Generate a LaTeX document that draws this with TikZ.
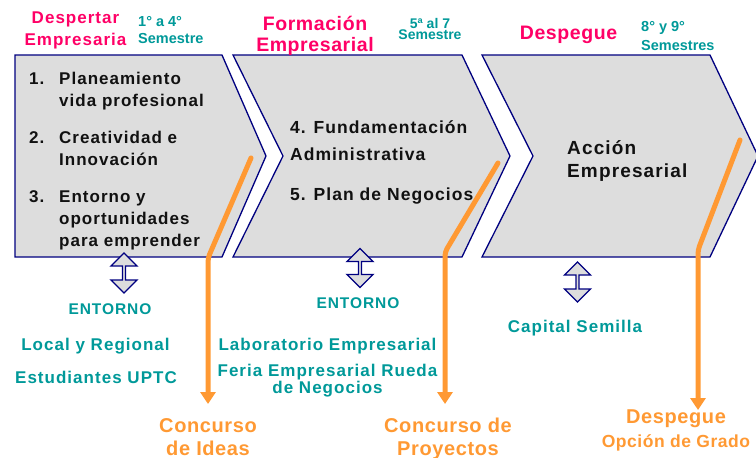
\documentclass[tikz,border=0pt]{standalone}
\usepackage{fontspec}
\setmainfont{Liberation Sans}
\newfontfamily\wsans[LetterSpace=6]{Liberation Sans}
\newfontfamily\msans[LetterSpace=3]{Liberation Sans}
\usetikzlibrary{arrows.meta,shapes.arrows}
\definecolor{navyline}{HTML}{000080}
\definecolor{chevgray}{HTML}{DDDDDD}
\definecolor{titlepink}{HTML}{FF0066}
\definecolor{tealtext}{HTML}{009999}
\definecolor{orangeline}{HTML}{FF9933}
\definecolor{itemblack}{HTML}{111111}

\begin{document}
\begin{tikzpicture}[x=1pt,y=-1pt,
  chev/.style={draw=navyline,fill=chevgray,line width=1.3pt,line join=miter},
  dblarrow/.style={double arrow,draw=navyline,fill=chevgray,line width=1.3pt,
    rotate=90,inner sep=0pt,minimum width=26pt,minimum height=40pt,
    double arrow head extend=5pt,double arrow head indent=0pt},
  stagetxt/.style={text=titlepink,font=\msans\bfseries\fontsize{19.5}{21}\selectfont,
    align=center,anchor=base,inner sep=0pt},
  semtxt/.style={text=tealtext,font=\bfseries\fontsize{14.5}{17}\selectfont,
    align=left,anchor=base west,inner sep=0pt},
  itemtxt/.style={text=itemblack,font=\wsans\bfseries\fontsize{17}{22}\selectfont,
    align=left,anchor=base west,inner sep=0pt},
  envtxt/.style={text=tealtext,font=\wsans\bfseries\fontsize{17}{15}\selectfont,
    align=center,anchor=base,inner sep=0pt},
  goaltxt/.style={text=orangeline,font=\msans\bfseries\fontsize{20}{23}\selectfont,
    align=center,anchor=base,inner sep=0pt},
  goalarrow/.style={draw=orangeline,line width=5pt,rounded corners=4pt,line cap=round,
    -{Triangle[width=15pt,length=12pt]}}]
\useasboundingbox (0,0) rectangle (756,458);

% chevrons
\draw[chev] (15,55) -- (222,55) -- (266,156) -- (222,257) -- (15,257) -- cycle;
\draw[chev] (233,55) -- (462,55) -- (510,156) -- (462,257) -- (233,257) -- (283,156) -- cycle;
\draw[chev] (482,55) -- (710,55) -- (758,156) -- (710,257) -- (482,257) -- (533,156) -- cycle;

% stage titles (base = last line)
\node[stagetxt,font=\wsans\bfseries\fontsize{17}{22}\selectfont] (stage1) at (75.5,45.5) {Despertar\\Empresaria};
\node[semtxt] (sem1) at (138,43) {1° a 4°\\Semestre};
\node[stagetxt] (stage2) at (315,51) {Formación\\Empresarial};
\node[semtxt,align=center,anchor=base,font=\bfseries\fontsize{14}{11}\selectfont] (sem2) at (430,39) {5ª al 7\\Semestre};
\node[stagetxt] (stage3) at (568.5,39) {Despegue};
\node[semtxt,font=\bfseries\fontsize{14.5}{19}\selectfont] (sem3) at (641,50) {8° y 9°\\Semestres};

% contents
\node[itemtxt] (items1) at (29,84) {\begin{tabular}[t]{@{}p{30pt}@{}l@{}}
  1. & Planeamiento\\ & vida profesional\\[15pt]
  2. & Creatividad e\\ & Innovación\\[15pt]
  3. & Entorno y\\ & oportunidades\\ & para emprender
  \end{tabular}};
\node[itemtxt,font=\wsans\bfseries\fontsize{17.5}{27}\selectfont] (items2) at (290,200)
  {4. Fundamentación\\Administrativa\\[13pt]5. Plan de Negocios};
\node[itemtxt,font=\wsans\bfseries\fontsize{19}{23}\selectfont] (items3) at (567,177)
  {Acción\\Empresarial};

% links to the environment
\node[dblarrow] (env1) at (124,273) {};
\node[dblarrow,minimum height=39pt] (env2) at (360,268) {};
\node[dblarrow] (env3) at (577.5,282) {};

\node[envtxt,font=\wsans\bfseries\fontsize{15.5}{15}\selectfont] (ent1) at (110,314) {ENTORNO};
\node[envtxt] (local) at (95.5,350) {Local y Regional};
\node[envtxt] (uptc) at (96,383) {Estudiantes UPTC};
\node[envtxt,font=\wsans\bfseries\fontsize{15.5}{15}\selectfont] (ent2) at (358,308) {ENTORNO};
\node[envtxt] (lab) at (327.5,350) {Laboratorio Empresarial};
\node[envtxt] (feria) at (327.5,393) {Feria Empresarial Rueda\\de Negocios};
\node[envtxt] (capital) at (575,332) {Capital Semilla};

% results
\node[goaltxt] (ideas) at (208,455) {Concurso\\de Ideas};
\node[goaltxt] (proy) at (448,455) {Concurso de\\Proyectos};
\node[goaltxt,font=\msans\bfseries\fontsize{20}{24}\selectfont] (grado) at (676,447)
  {Despegue\\{\fontsize{17.5}{24}\selectfont Opción de Grado}};

\coordinate (g1a) at (251,158);
\coordinate (g1b) at (208,258);
\coordinate (g1e) at (208,404);
\coordinate (g2a) at (498,163);
\coordinate (g2b) at (445,252);
\coordinate (g2e) at (445,404);
\coordinate (g3a) at (740,140);
\coordinate (g3b) at (698,250);
\coordinate (g3e) at (698,410);
\draw[goalarrow] (g1a) -- (g1b) -- (g1e);
\draw[goalarrow] (g2a) -- (g2b) -- (g2e);
\draw[goalarrow] (g3a) -- (g3b) -- (g3e);
\end{tikzpicture}
\end{document}
